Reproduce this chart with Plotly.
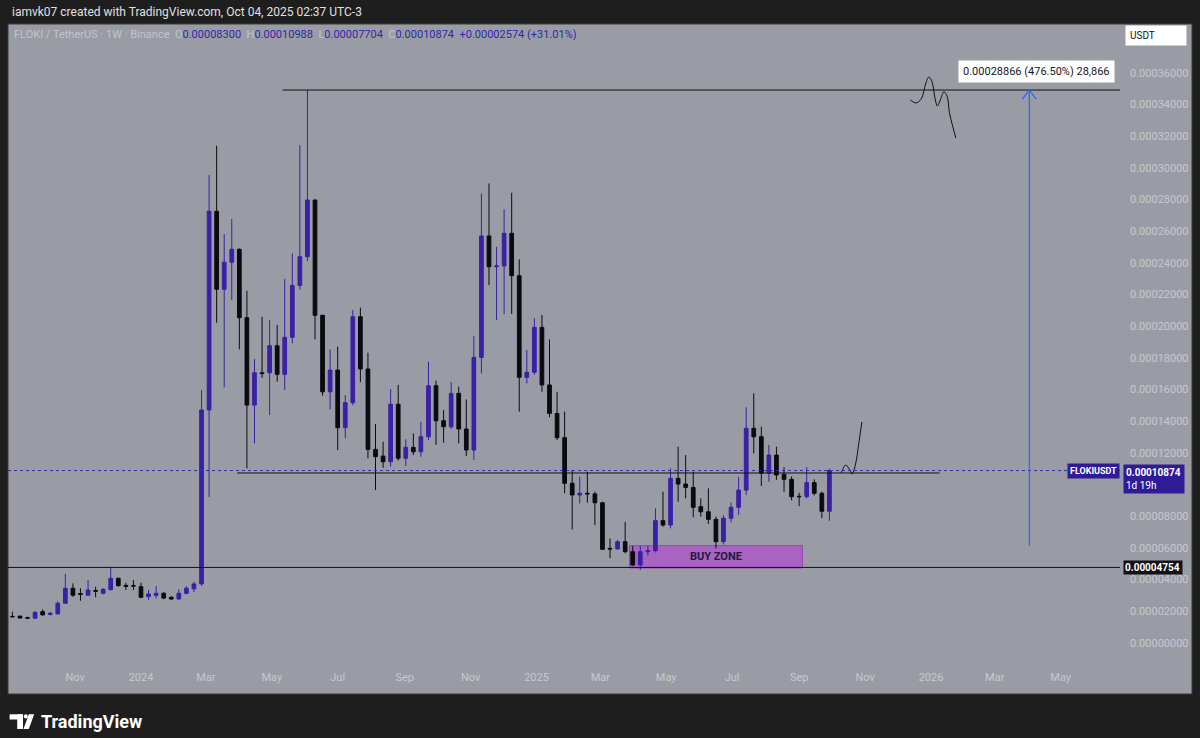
import pandas as pd
import plotly.graph_objects as go

# ---------------- data (prices in units of 1e-5 USDT) ----------------
start_week = "2023-09-04"
open_e5 = [1.66, 1.68, 1.58, 1.55, 1.96, 1.78, 1.82, 2.49, 3.44, 3.10,
           3.00, 3.30, 3.12, 3.35, 4.07, 3.62, 3.60, 3.54, 2.91, 2.99,
           3.12, 2.87, 2.76, 3.12, 3.40, 3.71, 14.70, 27.25, 22.32, 24.03,
           24.85, 20.53, 15.01, 17.05, 17.05, 18.76, 16.95, 19.29, 22.57, 24.38,
           27.96, 20.68, 15.85, 17.22, 13.58, 15.16, 20.59, 17.29, 12.21, 11.79,
           11.43, 15.06, 11.65, 12.34, 12.06, 13.01, 16.23, 14.02, 13.64, 15.75,
           13.50, 12.17, 18.02, 25.69, 23.75, 23.80, 25.86, 23.18, 16.76, 17.08,
           19.92, 16.28, 14.48, 12.95, 10.07, 9.33, 9.44, 9.40, 8.84, 5.96,
           5.92, 6.38, 5.75, 4.91, 5.75, 5.81, 7.71, 7.43, 10.38, 10.02,
           9.81, 8.59, 8.27, 7.79, 6.38, 7.86, 8.55, 9.64, 13.54, 13.01,
           10.70, 11.85, 10.64, 10.32, 9.25, 9.22, 10.11, 9.44, 8.300]
high_e5 = [1.96, 1.70, 1.65, 1.98, 2.10, 1.95, 2.62, 4.34, 3.75, 3.44,
           3.96, 3.54, 3.45, 4.754, 4.10, 3.79, 3.96, 3.79, 3.33, 3.58,
           3.20, 2.92, 3.37, 3.58, 3.85, 15.96, 29.54, 31.39, 25.81, 26.76,
           24.90, 22.23, 17.92, 20.59, 20.38, 20.07, 22.97, 24.59, 31.43, 34.91,
           28.00, 20.70, 18.53, 18.70, 15.64, 21.01, 21.16, 18.32, 13.81, 12.70,
           16.02, 16.28, 12.85, 13.22, 13.96, 17.75, 16.55, 14.70, 16.45, 16.17,
           15.37, 19.39, 28.38, 29.01, 25.01, 27.37, 28.42, 24.21, 18.49, 20.49,
           20.70, 19.16, 15.85, 14.59, 10.91, 10.48, 10.80, 9.54, 8.90, 6.59,
           6.50, 7.64, 6.11, 6.11, 6.11, 8.49, 9.54, 11.01, 12.38, 11.85,
           10.80, 9.12, 9.75, 7.96, 8.05, 8.86, 10.48, 14.87, 15.75, 13.64,
           12.49, 12.38, 11.08, 10.50, 9.47, 11.08, 10.32, 9.54, 10.988]
low_e5 = [1.60, 1.52, 1.50, 1.50, 1.70, 1.72, 1.78, 2.45, 2.90, 2.65,
          2.98, 2.87, 3.05, 3.30, 3.55, 3.33, 3.33, 2.82, 2.70, 2.80,
          2.75, 2.70, 2.72, 3.05, 3.20, 3.60, 9.20, 20.21, 16.13, 21.64,
          18.53, 11.01, 12.59, 16.74, 14.38, 16.49, 15.96, 18.91, 22.30, 24.10,
          19.16, 15.60, 14.74, 12.17, 12.91, 15.00, 16.45, 11.65, 9.64, 11.05,
          11.12, 11.50, 11.16, 11.85, 11.75, 12.80, 12.49, 12.63, 13.50, 12.59,
          11.79, 11.54, 17.01, 22.59, 20.38, 20.76, 20.76, 14.59, 16.38, 16.91,
          15.85, 14.24, 12.80, 9.44, 7.16, 8.80, 8.84, 7.43, 5.85, 5.33,
          5.90, 5.65, 4.84, 4.59, 5.50, 5.70, 7.33, 7.22, 8.90, 9.12,
          7.92, 7.96, 7.50, 5.96, 6.20, 7.60, 8.07, 9.33, 11.96, 9.90,
          10.17, 10.28, 9.54, 9.00, 8.63, 9.12, 9.30, 7.86, 7.704]
close_e5 = [1.64, 1.56, 1.55, 1.92, 1.76, 1.86, 2.49, 3.44, 3.00, 3.05,
            3.33, 3.25, 3.37, 4.07, 3.60, 3.55, 3.58, 2.87, 3.08, 3.12,
            2.82, 2.76, 3.12, 3.44, 3.71, 14.70, 27.25, 22.32, 24.03, 24.85,
            20.53, 15.01, 17.05, 17.00, 18.76, 16.95, 19.29, 22.57, 24.38, 27.96,
            20.68, 15.85, 17.22, 13.58, 15.16, 20.59, 17.29, 12.21, 11.75, 11.43,
            15.06, 11.65, 12.34, 12.06, 13.01, 16.23, 14.02, 13.64, 15.75, 13.50,
            12.17, 18.02, 25.69, 23.75, 23.80, 25.86, 23.18, 16.76, 17.08, 19.92,
            16.28, 14.48, 12.95, 10.07, 9.33, 9.44, 9.40, 8.84, 5.90, 5.92,
            6.38, 5.75, 4.91, 5.75, 5.81, 7.71, 7.43, 10.38, 10.02, 9.81,
            8.55, 8.27, 7.79, 6.38, 7.86, 8.55, 9.64, 13.54, 13.01, 10.70,
            11.85, 10.59, 10.32, 9.22, 9.22, 10.11, 9.44, 8.30, 10.874]
SCALE = 1e-5

x_tick_dates = ["2023-09-01", "2023-11-01", "2024-01-01", "2024-03-01", "2024-05-01",
                "2024-07-01", "2024-09-01", "2024-11-01", "2025-01-01", "2025-03-01",
                "2025-05-01", "2025-07-01", "2025-09-01", "2025-11-01", "2026-01-01",
                "2026-03-01", "2026-05-01"]
x_tick_text = ["Sep", "Nov", "2024", "Mar", "May", "Jul", "Sep", "Nov", "2025", "Mar",
               "May", "Jul", "Sep", "Nov", "2026", "Mar", "May"]
# 0.00010000 is hidden behind the last-price label in the reference
y_tick_vals_e5 = [0, 2, 4, 6, 8, 12, 14, 16, 18, 20, 22, 24, 26, 28, 30, 32, 34, 36]

# drawings
top_level_e5 = 34.91
top_level_start = "2024-05-11"
mid_level_e5 = 10.72
mid_level_span = ["2024-03-30", "2026-01-09"]
support_level_e5 = 4.754
last_price_e5 = 10.874
buy_zone_dates = ["2025-03-28", "2025-09-04"]
buy_zone_e5 = [4.72, 6.13]
target_date = "2026-04-02"
target_from_e5 = 6.10
target_to_e5 = 34.91
target_text = "0.00028866 (476.50%) 28,866"
target_text_e5 = 36.11
wave_top_dates = ["2025-12-13", "2025-12-18", "2025-12-23", "2025-12-27", "2025-12-30",
                  "2026-01-02", "2026-01-05", "2026-01-07", "2026-01-10", "2026-01-13",
                  "2026-01-16", "2026-01-18", "2026-01-21", "2026-01-24"]
wave_top_e5 = [34.28, 34.09, 34.35, 35.29, 35.73, 35.42, 34.28, 33.90, 34.35, 34.80,
               34.50, 33.50, 32.64, 31.88]
wave_low_dates = ["2025-10-10", "2025-10-14", "2025-10-18", "2025-10-20", "2025-10-23",
                  "2025-10-26", "2025-10-29"]
wave_low_e5 = [10.72, 11.22, 10.90, 10.65, 11.22, 12.49, 13.94]

# ---------------- layout geometry ----------------
W, H = 1200, 738
L, R, T, B = 8, 80, 24, 78
PW, PH = W - L - R, H - T - B
anchor = pd.Timestamp("2024-01-01")
ANCHOR_PX = 141
PPD = 1.0807  # pixels per day
x_min = anchor + pd.Timedelta(days=(L - ANCHOR_PX) / PPD)
x_max = anchor + pd.Timedelta(days=(L + PW - ANCHOR_PX) / PPD)
y_min, y_max = -1.093 * SCALE, 39.08 * SCALE
PPV = PH / (y_max - y_min)


def px(x):
    return (x - L) / PW


def py(y):
    return (T + PH - y) / PH


UP = "#3a20a6"
DOWN = "#0b0b0f"
PANE = "#9a9ca5"
DARK = "#1e1e1e"
FONT = "Roboto"

dates = pd.date_range(start_week, periods=len(open_e5), freq="7D")

fig = go.Figure()
fig.add_trace(go.Candlestick(
    x=dates,
    open=[v * SCALE for v in open_e5],
    high=[v * SCALE for v in high_e5],
    low=[v * SCALE for v in low_e5],
    close=[v * SCALE for v in close_e5],
    increasing=dict(line=dict(color=UP, width=1), fillcolor=UP),
    decreasing=dict(line=dict(color=DOWN, width=1), fillcolor=DOWN),
    whiskerwidth=0,
    showlegend=False,
    hoverinfo="skip",
))

for xs, ys in [(wave_top_dates, wave_top_e5), (wave_low_dates, wave_low_e5)]:
    fig.add_trace(go.Scatter(
        x=xs, y=[v * SCALE for v in ys], mode="lines",
        line=dict(color="#111111", width=1, shape="spline"),
        showlegend=False, hoverinfo="skip"))

shapes = []
# pane background
shapes.append(dict(type="rect", xref="paper", yref="paper", x0=px(8), x1=px(1192),
                   y0=py(24), y1=py(694), fillcolor=PANE, line=dict(color="#3a3a3a", width=1),
                   layer="below"))
# buy zone
shapes.append(dict(type="rect", xref="x", yref="y", x0=buy_zone_dates[0], x1=buy_zone_dates[1],
                   y0=buy_zone_e5[0] * SCALE, y1=buy_zone_e5[1] * SCALE,
                   fillcolor="rgba(172,80,205,0.75)", line=dict(color="rgba(150,60,180,0.9)", width=1),
                   layer="below"))
# horizontal levels
shapes.append(dict(type="line", xref="x", yref="y", x0=top_level_start, x1=x_max,
                   y0=top_level_e5 * SCALE, y1=top_level_e5 * SCALE,
                   line=dict(color="#111111", width=1)))
shapes.append(dict(type="line", xref="x", yref="y", x0=mid_level_span[0], x1=mid_level_span[1],
                   y0=mid_level_e5 * SCALE, y1=mid_level_e5 * SCALE,
                   line=dict(color="#111111", width=1)))
shapes.append(dict(type="line", xref="paper", yref="y", x0=0, x1=1,
                   y0=support_level_e5 * SCALE, y1=support_level_e5 * SCALE,
                   line=dict(color="#111111", width=1)))
shapes.append(dict(type="line", xref="paper", yref="y", x0=0, x1=1,
                   y0=last_price_e5 * SCALE, y1=last_price_e5 * SCALE,
                   line=dict(color="#3a2aa8", width=1, dash="dot")))
# target arrow
tdate = pd.Timestamp(target_date)
shapes.append(dict(type="line", xref="x", yref="y", x0=tdate, x1=tdate,
                   y0=target_from_e5 * SCALE, y1=target_to_e5 * SCALE,
                   line=dict(color="#2962ff", width=1.2)))
dx = pd.Timedelta(days=7 / PPD)
dy = 9 / PPV
tip_y = target_to_e5 * SCALE
for sgn in (-1, 1):
    shapes.append(dict(type="line", xref="x", yref="y", x0=tdate, x1=tdate + sgn * dx,
                       y0=tip_y, y1=tip_y - dy, line=dict(color="#2962ff", width=1.2)))

# TradingView logo
shapes.append(dict(type="rect", xref="paper", yref="paper", x0=px(9.6), x1=px(23),
                   y0=py(714.3), y1=py(719.5), fillcolor="white", line=dict(width=0)))
shapes.append(dict(type="rect", xref="paper", yref="paper", x0=px(17.2), x1=px(23),
                   y0=py(714.3), y1=py(729), fillcolor="white", line=dict(width=0)))
shapes.append(dict(type="circle", xref="paper", yref="paper", x0=px(23.8), x1=px(27.8),
                   y0=py(714.3), y1=py(718.5), fillcolor="white", line=dict(width=0)))
p = [(28.8, 714.3), (34.2, 714.3), (28.8, 729), (23.5, 729)]
path = "M " + " L ".join(f"{px(a)},{py(b)}" for a, b in p) + " Z"
shapes.append(dict(type="path", xref="paper", yref="paper", path=path,
                   fillcolor="white", line=dict(width=0)))

ann = []
ann.append(dict(xref="paper", yref="paper", x=px(10), y=py(12), xanchor="left", yanchor="middle",
                text="iamvk07 created with TradingView.com, Oct 04, 2025 02:37 UTC-3",
                showarrow=False, font=dict(family=FONT, size=12, color="#e0e0e0")))
faint = "#c2c4cb"
val = "#3226ad"
legend_html = (f'<span style="color:{faint}">FLOKI / TetherUS · 1W · Binance  O</span>'
               f'<span style="color:{val}">0.00008300</span>'
               f'<span style="color:{faint}">  H</span><span style="color:{val}">0.00010988</span>'
               f'<span style="color:{faint}">  L</span><span style="color:{val}">0.00007704</span>'
               f'<span style="color:{faint}">  C</span><span style="color:{val}">0.00010874  +0.00002574 (+31.01%)</span>')
ann.append(dict(xref="paper", yref="paper", x=px(12), y=py(34), xanchor="left", yanchor="middle",
                text=legend_html, showarrow=False, font=dict(family=FONT, size=11)))
ann.append(dict(xref="paper", yref="paper", x=px(1125), y=py(25), xanchor="left", yanchor="top",
                text="USDT", showarrow=False, bgcolor="white", borderpad=4, width=52, align="left",
                font=dict(family=FONT, size=10, color="#111111")))
ann.append(dict(xref="x", yref="y", x=tdate, y=target_text_e5 * SCALE, xshift=7,
                text=target_text, showarrow=False, bgcolor="white", borderpad=4,
                font=dict(family=FONT, size=11, color="#131722")))
ann.append(dict(xref="x", yref="y",
                x=pd.Timestamp(buy_zone_dates[0]) + (pd.Timestamp(buy_zone_dates[1]) - pd.Timestamp(buy_zone_dates[0])) / 2,
                y=(buy_zone_e5[0] + buy_zone_e5[1]) / 2 * SCALE,
                text="<b>BUY ZONE</b>", showarrow=False,
                font=dict(family=FONT, size=11, color="#221a3a")))
ann.append(dict(xref="paper", yref="y", x=1, y=last_price_e5 * SCALE, xanchor="right", yanchor="middle",
                text="<b>FLOKIUSDT</b>", showarrow=False, bgcolor="#2f1b95", borderpad=2,
                font=dict(family=FONT, size=9, color="white")))
ann.append(dict(xref="paper", yref="y", x=px(1123), y=last_price_e5 * SCALE, xanchor="left",
                yanchor="top", yshift=7, align="left",
                text="<b>0.00010874</b><br>1d 19h", showarrow=False, bgcolor="#2f1b95", borderpad=2,
                width=56, font=dict(family=FONT, size=10, color="white")))
ann.append(dict(xref="paper", yref="y", x=px(1123), y=support_level_e5 * SCALE, xanchor="left",
                yanchor="middle", align="left",
                text="<b>0.00004754</b>", showarrow=False, bgcolor="#131316", borderpad=1,
                width=56, font=dict(family=FONT, size=10, color="white")))
ann.append(dict(xref="paper", yref="paper", x=px(39), y=py(721), xanchor="left", yanchor="middle",
                text="<b>TradingView</b>", showarrow=False,
                font=dict(family=FONT, size=18, color="white")))

fig.update_layout(
    width=W, height=H,
    margin=dict(l=L, r=R, t=T, b=B),
    paper_bgcolor=DARK, plot_bgcolor=PANE,
    shapes=shapes, annotations=ann,
    showlegend=False,
    xaxis=dict(type="date", range=[x_min, x_max], rangeslider=dict(visible=False),
               showgrid=False, zeroline=False, showline=False, ticks="",
               tickvals=x_tick_dates, ticktext=x_tick_text, ticklabelstandoff=9,
               tickfont=dict(family=FONT, size=11, color="#c6c8ce")),
    yaxis=dict(side="right", range=[y_min, y_max], showgrid=False, zeroline=False,
               showline=False, ticks="", tickvals=[v * SCALE for v in y_tick_vals_e5],
               tickformat=".8f", ticklabelstandoff=9,
               tickfont=dict(family=FONT, size=11, color="#c6c8ce")),
)

fig.write_html(
    "out.html",
    config={"displayModeBar": False},
    post_script="document.body.style.margin='0';document.body.style.padding='0';"
                "document.body.style.overflow='hidden';document.body.style.background='#1e1e1e';",
)
